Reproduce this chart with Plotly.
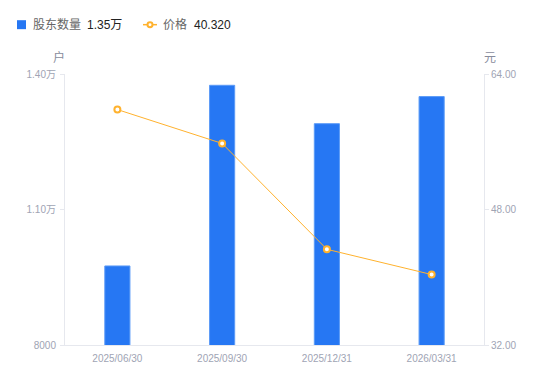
import plotly.graph_objects as go

dates = ["2025/06/30", "2025/09/30", "2025/12/31", "2026/03/31"]
holders = [9750, 13750, 12900, 13500]
prices = [59.8, 55.8, 43.3, 40.32]

left_ticks = [8000, 11000, 14000]
left_labels = ["8000", "1.10万", "1.40万"]
right_ticks = [32, 48, 64]
right_labels = ["32.00", "48.00", "64.00"]

BLUE = "#2677F3"
ORANGE = "#FFB22E"
AXIS = "#E6E8EE"
TICKTXT = "#A0A4B4"
FONT = "Liberation Sans, Noto Sans CJK SC, sans-serif"

W, H = 550, 381
ML, MR, MT, MB = 65, 66, 73.5, 35.5
PW, PH = W - ML - MR, H - MT - MB


def px(x):
    return (x - ML) / PW


def py(y):
    return (H - MB - y) / PH


fig = go.Figure()
fig.add_trace(go.Bar(
    x=dates, y=holders, yaxis="y", name="股东数量",
    marker=dict(color=BLUE, line=dict(color="#5C9BF7", width=1)),
    width=0.24,
))
fig.add_trace(go.Scatter(
    x=dates, y=prices, yaxis="y2", mode="lines+markers", name="价格",
    line=dict(color=ORANGE, width=1),
    marker=dict(size=6, color="white", line=dict(color=ORANGE, width=2)),
))

legend_y = 24
annotations = [
    dict(text="户", x=px(59), y=py(57)),
    dict(text="元", x=px(490), y=py(57)),
]
for a in annotations:
    a.update(xref="paper", yref="paper", xanchor="center", yanchor="middle",
             showarrow=False, font=dict(size=12, color="#888C9C"))

legend_texts = [
    ("股东数量", 31, "#666666"),
    ("1.35万", 85, "#222222"),
    ("价格", 161, "#666666"),
    ("40.320", 192, "#222222"),
]
for t, x, c in legend_texts:
    annotations.append(dict(
        text=t, x=px(x), y=py(legend_y), xref="paper", yref="paper",
        xanchor="left", yanchor="middle", showarrow=False,
        font=dict(size=12, color=c),
    ))

shapes = [
    dict(type="rect", xref="paper", yref="paper",
         x0=px(17), x1=px(26), y0=py(legend_y + 4.5), y1=py(legend_y - 4.5),
         fillcolor=BLUE, line=dict(width=0)),
    dict(type="line", xref="paper", yref="paper",
         x0=px(143), x1=px(157), y0=py(legend_y), y1=py(legend_y),
         line=dict(color=ORANGE, width=1.5)),
    dict(type="circle", xref="paper", yref="paper",
         x0=px(147.5), x1=px(152.5), y0=py(legend_y + 2.5), y1=py(legend_y - 2.5),
         fillcolor="white", line=dict(color=ORANGE, width=2)),
]

fig.update_layout(
    width=W, height=H,
    margin=dict(l=ML, r=MR, t=MT, b=MB),
    paper_bgcolor="white", plot_bgcolor="white",
    font=dict(family=FONT, size=10, color=TICKTXT),
    showlegend=False,
    xaxis=dict(
        type="category", showline=True, linecolor=AXIS, linewidth=1,
        showgrid=False, ticks="", tickfont=dict(size=10, color=TICKTXT),
        zeroline=False, automargin=False, ticklabelstandoff=4,
    ),
    yaxis=dict(
        range=[8000, 14000], tickvals=left_ticks, ticktext=left_labels,
        showline=True, linecolor=AXIS, linewidth=1, showgrid=False,
        ticks="outside", ticklen=4, tickcolor=AXIS, zeroline=False,
        tickfont=dict(size=10, color=TICKTXT), automargin=False,
        ticklabelstandoff=2,
    ),
    yaxis2=dict(
        range=[32, 64], tickvals=right_ticks, ticktext=right_labels,
        overlaying="y", side="right",
        showline=True, linecolor=AXIS, linewidth=1, showgrid=False,
        ticks="outside", ticklen=4, tickcolor=AXIS, zeroline=False,
        tickfont=dict(size=10, color=TICKTXT), automargin=False,
    ),
    annotations=annotations,
    shapes=shapes,
)

fig.write_html("out.html", config={"displayModeBar": False},
               post_script="document.body.style.margin='0';")
